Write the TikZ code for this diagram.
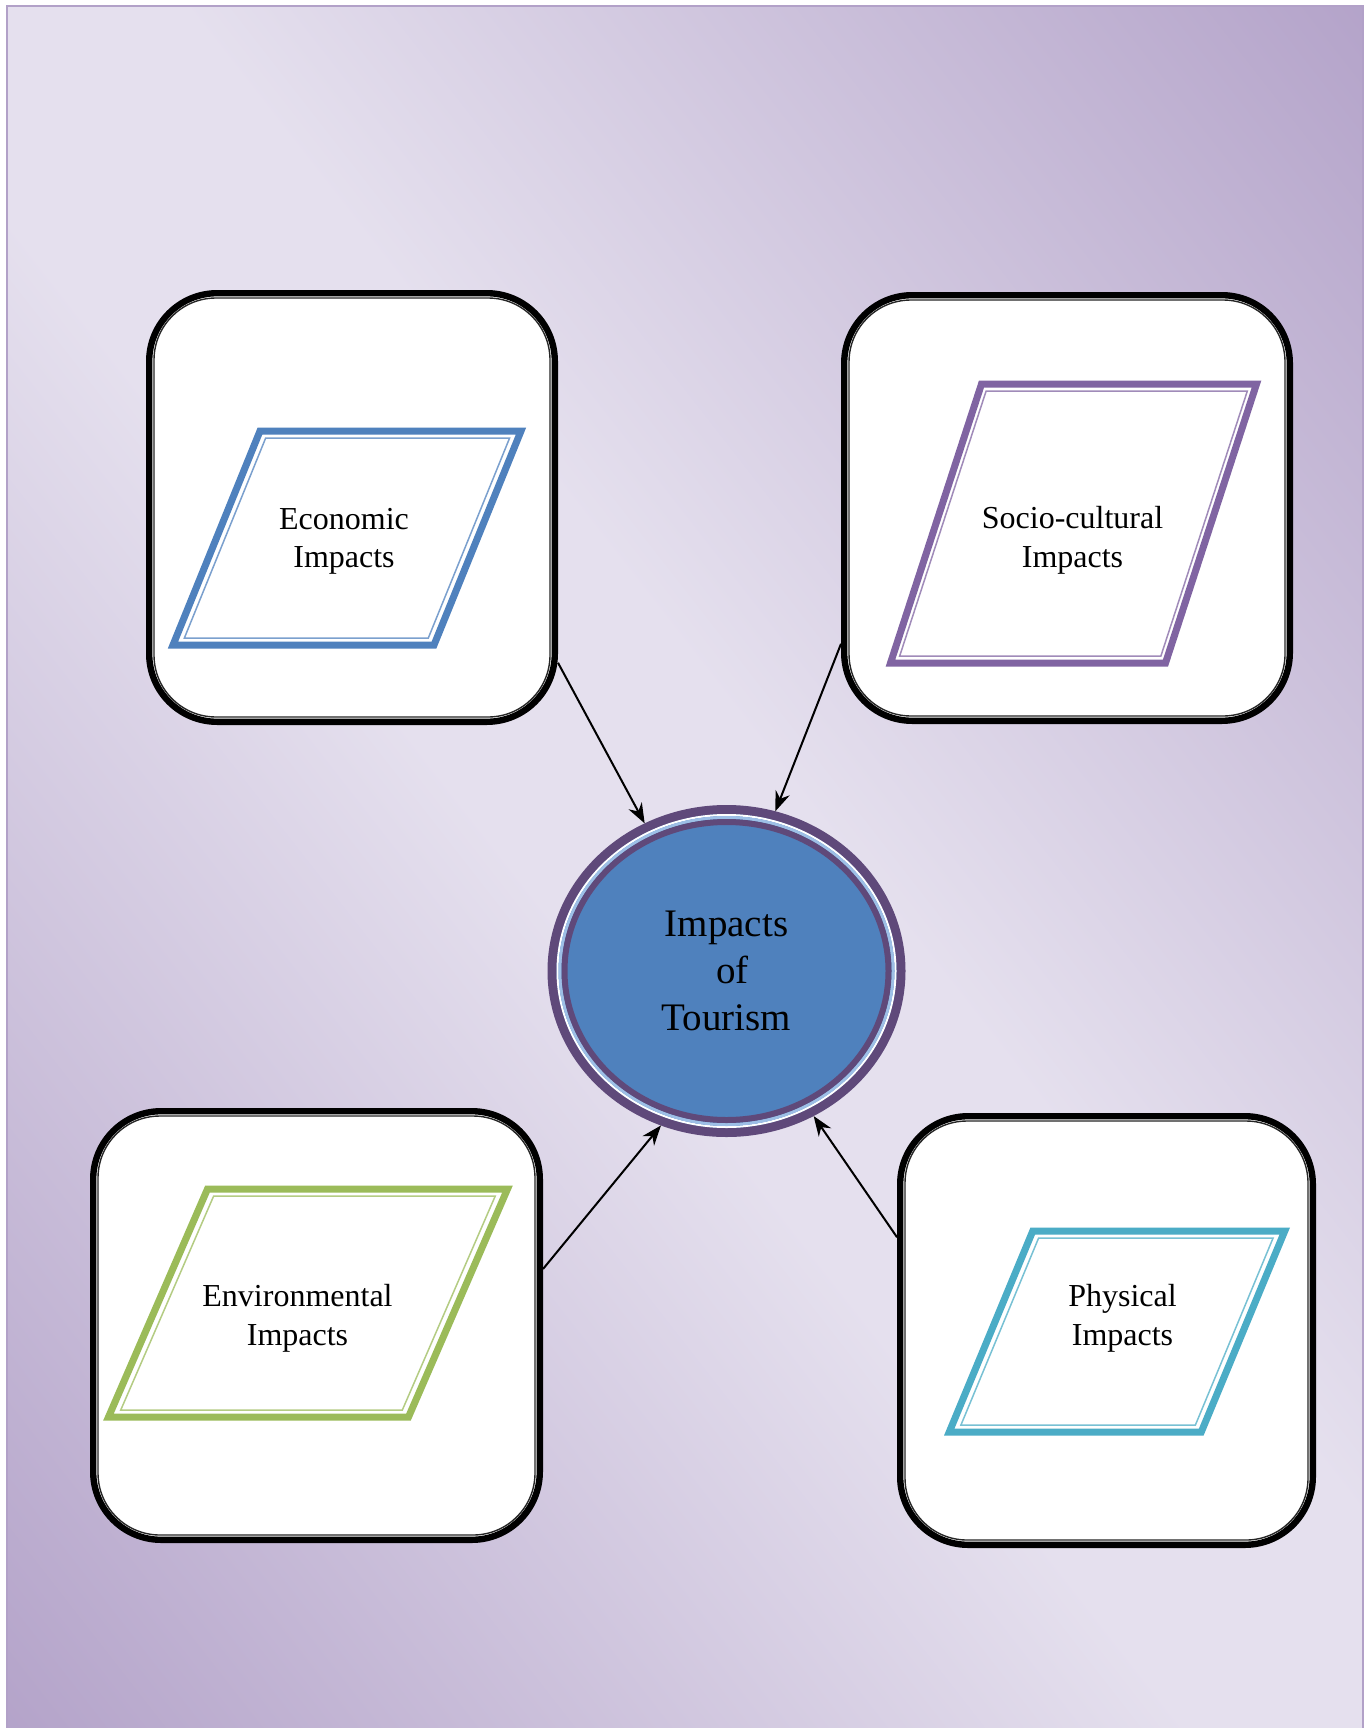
\documentclass[tikz,border=0pt]{standalone}
\usepackage{fontspec}
\setmainfont{Liberation Serif}
\usetikzlibrary{arrows.meta,shapes.geometric}

\definecolor{bgdark}{HTML}{B2A1C8}
\definecolor{bglight}{HTML}{E5E0EE}
\definecolor{ecoblue}{HTML}{4F81BD}
\definecolor{socpurple}{HTML}{8064A2}
\definecolor{envgreen}{HTML}{9BBB59}
\definecolor{phyteal}{HTML}{4BACC6}
\definecolor{ringpurple}{HTML}{5F497A}
\definecolor{ringblue}{HTML}{9DBFE6}
\pgfdeclarehorizontalshading{bgshade}{100bp}{color(0bp)=(bgdark); color(25bp)=(bgdark); color(47bp)=(bglight); color(53bp)=(bglight); color(75bp)=(bgdark); color(100bp)=(bgdark)}

\begin{document}
\begin{tikzpicture}[x=.5pt,y=-.5pt,>={Stealth[length=10pt,width=7.5pt]},
  card/.style={draw=black,line width=3.2pt,fill=white,rounded corners=34pt,inner sep=0pt},
  cardrule/.style={draw=black!85,line width=.7pt,rounded corners=31pt},
  impact/.style={align=center,font=\fontsize{16}{19.3}\selectfont},
  hub/.style={ellipse,draw=ringpurple,line width=4.5pt,fill=ecoblue,inner sep=0pt,
    minimum width=174.5pt,minimum height=161.5pt,align=center,font=\fontsize{19.5}{23.7}\selectfont},
  link/.style={->,line width=1pt}]
  \useasboundingbox (0,0) rectangle (1368,1728);
  \fill[white] (0,0) rectangle (1368,1728);
  % backdrop
  \begin{scope}
    \clip (7,6) rectangle (1363,1728);
    \shade[shading=bgshade,transform canvas={rotate around={38:(685,867)}}] (-415,-233) rectangle (1785,1967);
  \end{scope}
  \draw[bgdark,line width=.6pt] (7,1728) -- (7,6) -- (1363,6) -- (1363,1728);

  \node[card,minimum width=202.8pt,minimum height=214.3pt] (eco) at (352,507.5) {};
  \node[card,minimum width=222.8pt,minimum height=212.8pt] (soc) at (1067,508) {};
  \node[card,minimum width=223.3pt,minimum height=214.3pt] (env) at (316.5,1325.5) {};
  \node[card,minimum width=206.3pt,minimum height=214.3pt] (phy) at (1106.5,1330.5) {};
  \foreach \b in {eco,soc,env,phy}
    \draw[cardrule] ([shift={(4pt,-4pt)}]\b.north west) rectangle ([shift={(-4pt,4pt)}]\b.south east);

  \foreach \cx/\cy/\w/\h/\s/\col in {347/538/261/214/87/ecoblue,1073.5/523.5/275/279/91/socpurple,
      308/1303/300/228/99/envgreen,1117/1331.5/252/201/83.5/phyteal}{
    \draw[\col,line width=3.5pt] (\cx-\w/2+\s/2,\cy-\h/2) -- ++(\w,0) -- ++(-\s,\h) -- ++(-\w,0) -- cycle;
    \draw[\col!75,line width=.75pt,shift={(\cx,\cy)},scale={1-14/\h}] (-\w/2+\s/2,-\h/2) -- ++(\w,0) -- ++(-\s,\h) -- ++(-\w,0) -- cycle;
  }
  \node[impact] (ecotext) at (344,541.5) {Economic\\Impacts};
  \node[impact] (soctext) at (1072.5,540.5) {Socio-cultural\\Impacts};
  \node[impact] (envtext) at (297.5,1318) {Environmental\\Impacts};
  \node[impact] (phytext) at (1122.5,1318) {Physical\\Impacts};

  \node[hub] (core) at (726.5,971) {Impacts\\\hspace*{6pt}of\\Tourism};
  \draw[white,line width=1pt] (core.center) ellipse [x radius=84.5pt,y radius=78pt];
  \draw[ringblue,line width=1.5pt] (core.center) ellipse [x radius=83.25pt,y radius=76.75pt];
  \draw[ringpurple,line width=3pt] (core.center) ellipse [x radius=81pt,y radius=74.5pt];

  \draw[link] (eco.-37) -- (core.119);
  \draw[link] (soc.211) -- (core.73);
  \draw[link] (env.14) -- (core.247);
  \draw[link] (phy.156) -- (core.-59);
\end{tikzpicture}
\end{document}
